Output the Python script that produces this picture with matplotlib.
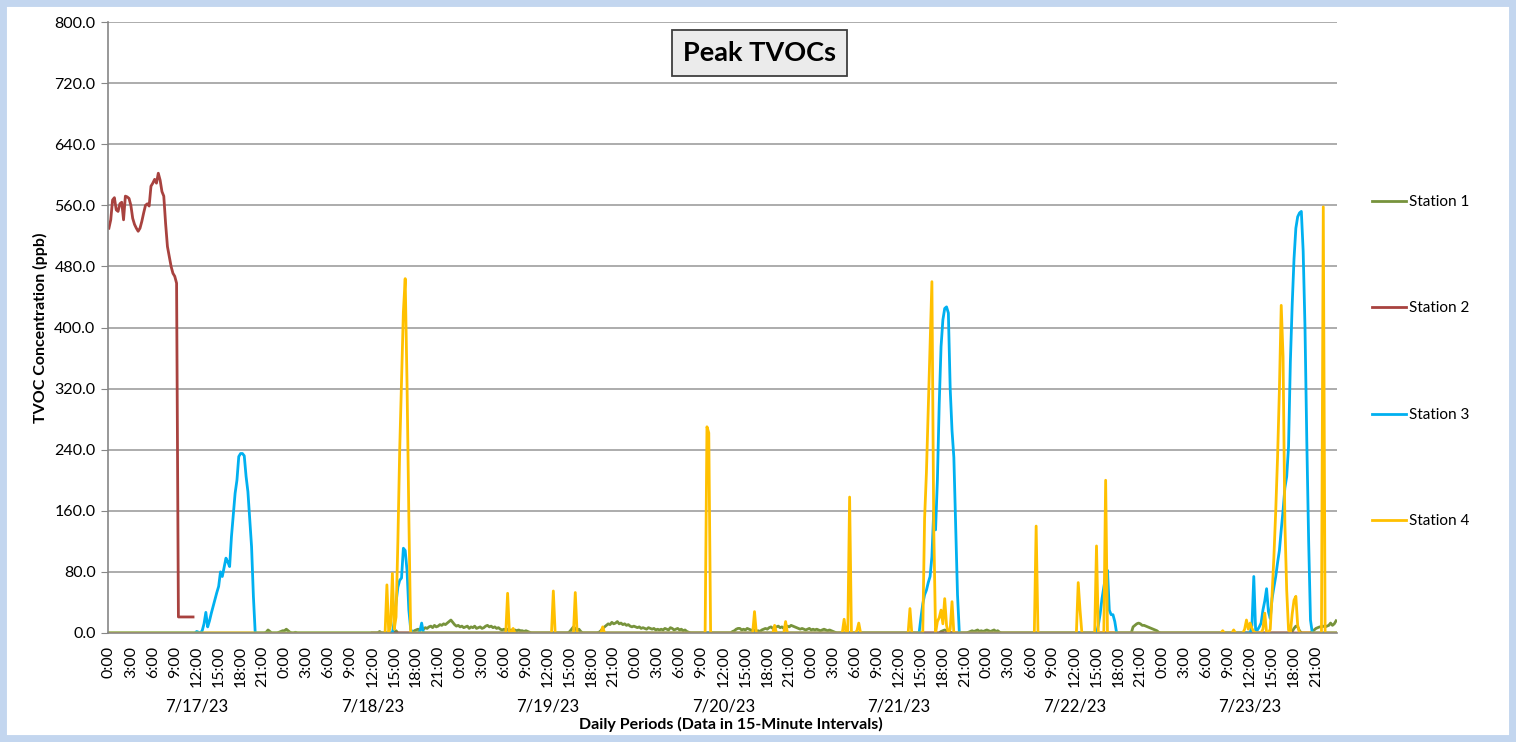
import numpy as np
import pandas as pd
import matplotlib
matplotlib.use("Agg")
import matplotlib.pyplot as plt
import matplotlib.transforms as mtransforms
from matplotlib.patches import Rectangle

plt.rcParams['font.family'] = ['Lato', 'DejaVu Sans']

# 15-minute categories, 7/17/23 0:00 .. 7/23/23 23:45
stamps = pd.date_range("2023-07-17 00:00", periods=672, freq="15min")
day_labels = ["7/17/23", "7/18/23", "7/19/23", "7/20/23", "7/21/23", "7/22/23", "7/23/23"]
series_names = ["Station 1", "Station 2", "Station 3", "Station 4"]
series_colors = ["#77933C", "#A8423F", "#00B0F0", "#FFC000"]

# Station 1 - low background readings (start time, readings)
station1_bursts = [
    ("2023-07-17 21:30", [1, 4, 2]),
    ("2023-07-17 23:15", [1, 2, 3, 3, 5, 3, 1]),
    ("2023-07-18 01:30", [1]),
    ("2023-07-18 13:00", [2]),
    ("2023-07-18 15:15", [3]),
    ("2023-07-18 17:45", [3, 4, 5, 4, 6, 5, 7, 6, 8, 9, 7, 10, 8, 9, 11, 10, 12, 11, 13, 15,
                          17, 14, 11, 9, 10, 8, 9, 7, 8, 9, 6, 8, 7, 9, 6, 7, 8, 6, 7, 9,
                          10, 8, 9, 7, 8, 6, 7, 5, 4, 5, 4, 5, 3, 4, 3, 4, 3, 4, 3, 3,
                          2, 3, 2, 1]),
    ("2023-07-19 15:00", [2, 5, 8, 6, 3, 5, 2]),
    ("2023-07-19 19:00", [1, 3, 6, 8, 10, 12, 11, 14, 12, 13, 15, 12, 13, 11, 12, 10, 11, 9, 8, 9,
                          8, 7, 8, 6, 7, 6, 5, 7, 6, 5, 6, 4, 5, 4, 5, 4, 6, 5, 4, 7,
                          6, 4, 5, 6, 4, 5, 3, 4, 2, 1]),
    ("2023-07-20 13:15", [2, 3, 5, 6, 6, 4, 5, 4, 6, 5, 4, 3, 4, 2, 3, 2, 4, 5, 6, 5,
                          7, 8, 6, 7, 8, 9, 7, 8, 6, 8, 9, 8, 10, 9, 8, 7, 6, 5, 6, 5,
                          4, 5, 6, 4, 5, 4, 5, 4, 3, 4, 5, 4, 3, 4, 3, 2, 1]),
    ("2023-07-21 17:45", [2, 3, 4, 3, 2, 1]),
    ("2023-07-21 21:30", [1, 2, 3, 2, 3, 4, 2, 3, 2, 3, 4, 3, 2, 3, 4, 2, 3, 1]),
    ("2023-07-22 19:45", [0, 8, 10, 12, 13, 12, 10, 10, 9, 8, 7, 6, 5, 4, 3, 1]),
    ("2023-07-23 17:45", [2, 6, 9, 8, 3]),
    ("2023-07-23 20:30", [2, 4, 6, 7, 8, 8, 9, 8, 9, 10, 13, 10, 12, 16]),
]

# Station 2 - readings from 7/17 0:00, then no data until the gap end, then zero
station2_start = [530, 541, 567, 570, 554, 552, 562, 564, 541, 572, 571, 569, 560, 543, 535, 530,
                  526, 530, 539, 550, 560, 562, 559, 585, 589, 594, 589, 602, 593, 578, 572, 536,
                  506, 493, 480, 471, 467, 458, 21, 21, 21, 21, 21, 21, 21, 21, 21]
station2_gap_end = "2023-07-18 12:00"

station3_bursts = [
    ("2023-07-17 12:00", [2, 1, 0, 3, 12, 27, 8, 16, 26, 35, 44, 53, 61, 80, 74, 86, 98, 93, 87, 126,
                          155, 183, 200, 231, 235, 235, 232, 205, 185, 150, 113, 48, 0]),
    ("2023-07-18 14:45", [0, 15, 40, 60, 69, 72, 111, 108, 82, 30, 5, 0, 0, 0, 0, 2, 13, 0]),
    ("2023-07-21 14:45", [0, 20, 38, 50, 56, 66, 74, 100, 160, 135, 200, 300, 375, 410, 425, 427,
                          419, 320, 265, 230, 140, 50, 0]),
    ("2023-07-22 15:00", [0, 10, 25, 45, 60, 75, 82, 30, 24, 24, 15, 0]),
    ("2023-07-23 12:00", [0, 10, 74, 4, 4, 8, 13, 30, 42, 58, 28, 19, 45, 60, 74, 92, 108, 135, 160, 190,
                          205, 244, 355, 430, 490, 530, 545, 550, 552, 500, 400, 250, 120, 17, 0]),
]

station4_bursts = [
    ("2023-07-18 14:00", [63, 0, 10, 78, 5, 21, 120, 240, 330, 420, 464, 327, 152, 0]),
    ("2023-07-19 06:30", [52, 0, 0, 6, 0]),
    ("2023-07-19 12:45", [55]),
    ("2023-07-19 15:45", [53]),
    ("2023-07-19 19:30", [8]),
    ("2023-07-20 09:45", [270, 262]),
    ("2023-07-20 16:15", [28]),
    ("2023-07-20 19:00", [10]),
    ("2023-07-20 20:30", [15]),
    ("2023-07-21 04:30", [18]),
    ("2023-07-21 05:15", [178]),
    ("2023-07-21 06:15", [3, 13]),
    ("2023-07-21 13:30", [32]),
    ("2023-07-21 15:30", [150, 210, 295, 385, 460, 139, 0, 15, 20, 30, 12, 45, 10, 0, 5, 41]),
    ("2023-07-22 06:45", [140]),
    ("2023-07-22 12:30", [66, 30]),
    ("2023-07-22 15:00", [114]),
    ("2023-07-22 16:15", [200]),
    ("2023-07-23 08:15", [3]),
    ("2023-07-23 09:45", [4]),
    ("2023-07-23 11:15", [5, 17, 5, 13, 6, 2]),
    ("2023-07-23 13:45", [5, 26]),
    ("2023-07-23 14:45", [5, 50, 100, 160, 230, 318, 429, 362, 144, 56, 4, 0, 25, 43, 48, 10]),
    ("2023-07-23 22:00", [558]),
]


def build(bursts):
    vals = np.zeros(len(stamps))
    for t, r in bursts:
        i = stamps.get_loc(pd.Timestamp(t))
        vals[i:i + len(r)] = r
    return vals


s1 = build(station1_bursts)
s2 = np.zeros(len(stamps))
s2[:len(station2_start)] = station2_start
s2[len(station2_start):stamps.get_loc(pd.Timestamp(station2_gap_end))] = np.nan
s3 = build(station3_bursts)
s4 = build(station4_bursts)

x = np.arange(len(stamps))

fig = plt.figure(figsize=(15.16, 7.42), dpi=100)
ax = fig.add_axes([108 / 1516, 1 - 633 / 742, (1337 - 108) / 1516, 611 / 742])

lines = []
for vals, name, c in zip([s1, s2, s3, s4], series_names, series_colors):
    ln, = ax.plot(x, vals, color=c, lw=2.0, label=name, solid_joinstyle='round')
    lines.append(ln)

ax.set_xlim(-0.5, len(stamps) - 0.5)
ax.set_ylim(0, 800)
yt = np.arange(0, 801, 80)
ax.set_yticks(yt)
ax.set_yticklabels([f"{v:.1f}" for v in yt])
ax.yaxis.grid(True, color="#A6A6A6", lw=1.3)
ax.set_axisbelow(True)
for s in ["top", "right"]:
    ax.spines[s].set_visible(False)
for s in ["left", "bottom"]:
    ax.spines[s].set_color("#868686")
    ax.spines[s].set_linewidth(1.2)
ax.tick_params(axis="y", direction="out", length=5, color="#868686", labelsize=11.5, pad=4)

xt = x[::12]
ax.set_xticks(xt)
ax.set_xticklabels([f"{stamps[i].hour}:{stamps[i].minute:02d}" for i in xt], rotation=90)
ax.tick_params(axis="x", length=0, labelsize=11.5, pad=9)

trans = mtransforms.blended_transform_factory(ax.transData, ax.transAxes)
for d, lab in enumerate(day_labels):
    ax.text(48 + 96 * d, -0.1195, lab, transform=trans, ha="center", va="center", fontsize=12)

fig.text(731 / 1516, 1 - 724 / 742, "Daily Periods (Data in 15-Minute Intervals)",
         ha="center", va="center", fontsize=11.5, fontweight="bold")
fig.text(40 / 1516, 1 - 328 / 742, "TVOC Concentration (ppb)", rotation=90,
         ha="center", va="center", fontsize=11.5, fontweight="bold")
fig.text(759.5 / 1516, 1 - 53 / 742, "Peak TVOCs", ha="center", va="center",
         fontsize=19.5, fontweight="bold",
         bbox=dict(boxstyle="square,pad=0.4", fc="#EBEBEB", ec="#3F3F3F", lw=1.3))

fig.legend(lines, series_names, loc="upper left", bbox_to_anchor=(1372 / 1516, 1 - 195 / 742),
           frameon=False, fontsize=11, handlelength=2.2, handletextpad=0.25, labelspacing=6.05,
           borderaxespad=0, borderpad=0)

fig.add_artist(Rectangle((0, 0), 1, 1, transform=fig.transFigure, fill=False,
                         ec="#C3D6EF", lw=10))

fig.savefig("out.png", dpi=100)
